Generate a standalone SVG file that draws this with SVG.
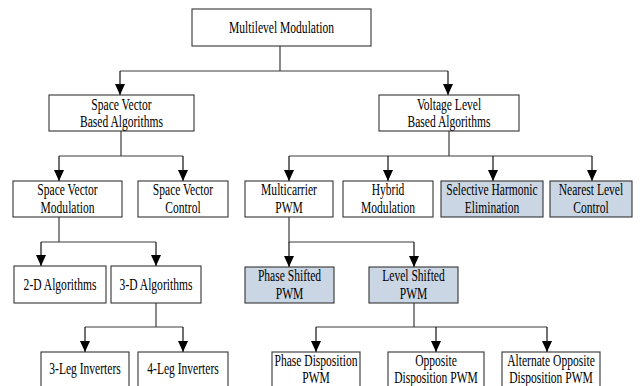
<svg xmlns="http://www.w3.org/2000/svg" width="640" height="386" viewBox="0 0 640 386">
<style>
.box{fill:#fff;stroke:#333;stroke-width:1.1}
.hl{fill:#cad6e4;stroke:#333;stroke-width:1.1}
.t{font-family:"Liberation Serif","Times New Roman",serif;font-size:16.5px;fill:#000;text-anchor:middle}
.c{fill:none;stroke:#3c3c3c;stroke-width:1.2}
.a{fill:none;stroke:#111;stroke-width:1.2;marker-end:url(#ah)}
</style>
<defs>
<marker id="ah" markerUnits="userSpaceOnUse" markerWidth="11" markerHeight="10" viewBox="0 0 11 10" refX="11" refY="5" orient="auto">
<path d="M0,0 L11,5 L0,10 Z" fill="#000"/>
</marker>
</defs>
<rect width="640" height="386" fill="#fff"/>

<g id="connectors">
<path class="c" d="M280,46 V71 M120,71 H448"/>
<path class="a" d="M120,71 V95"/>
<path class="a" d="M448,71 V95"/>
<path class="c" d="M121,131 V156 M59,156 H183"/>
<path class="a" d="M59,156 V181"/>
<path class="a" d="M183,156 V181"/>
<path class="c" d="M449,131 V156 M289,156 H592"/>
<path class="a" d="M289,156 V181"/>
<path class="a" d="M388,156 V181"/>
<path class="a" d="M493,156 V181"/>
<path class="a" d="M592,156 V181"/>
<path class="c" d="M59,217 V242 M41,242 H156"/>
<path class="a" d="M41,242 V266"/>
<path class="a" d="M156,242 V266"/>
<path class="c" d="M289,217 V242 H414"/>
<path class="a" d="M289,242 V267"/>
<path class="a" d="M414,242 V267"/>
<path class="c" d="M156,303 V327 M85,327 H183"/>
<path class="a" d="M85,327 V352"/>
<path class="a" d="M183,327 V352"/>
<path class="c" d="M414,303 V327 M316,327 H547"/>
<path class="a" d="M316,327 V352"/>
<path class="a" d="M436,327 V352"/>
<path class="a" d="M547,327 V352"/>
</g>

<g id="n-multilevel">
<rect class="box" x="192" y="9" width="179" height="37"/>
<text class="t" transform="translate(281.5,33) scale(0.7,1)">Multilevel Modulation</text>
</g>
<g id="n-svb">
<rect class="box" x="49" y="95" width="145" height="36"/>
<text class="t" transform="translate(121.5,109.5) scale(0.7,1)">Space Vector</text>
<text class="t" transform="translate(121.5,127) scale(0.7,1)">Based Algorithms</text>
</g>
<g id="n-vlb">
<rect class="box" x="379" y="95" width="140" height="36"/>
<text class="t" transform="translate(449,109.5) scale(0.7,1)">Voltage Level</text>
<text class="t" transform="translate(449,127) scale(0.7,1)">Based Algorithms</text>
</g>
<g id="n-svm">
<rect class="box" x="13" y="181" width="109" height="36"/>
<text class="t" transform="translate(67.5,195) scale(0.7,1)">Space Vector</text>
<text class="t" transform="translate(67.5,212.5) scale(0.7,1)">Modulation</text>
</g>
<g id="n-svc">
<rect class="box" x="138" y="181" width="90" height="36"/>
<text class="t" transform="translate(183,195) scale(0.7,1)">Space Vector</text>
<text class="t" transform="translate(183,212.5) scale(0.7,1)">Control</text>
</g>
<g id="n-mc">
<rect class="box" x="245" y="181" width="88" height="36"/>
<text class="t" transform="translate(289,195) scale(0.7,1)">Multicarrier</text>
<text class="t" transform="translate(289,212.5) scale(0.7,1)">PWM</text>
</g>
<g id="n-hybrid">
<rect class="box" x="343" y="181" width="90" height="36"/>
<text class="t" transform="translate(388,195) scale(0.7,1)">Hybrid</text>
<text class="t" transform="translate(388,212.5) scale(0.7,1)">Modulation</text>
</g>
<g id="n-she">
<rect class="hl" x="441" y="181" width="102" height="36"/>
<text class="t" transform="translate(492,195) scale(0.7,1)">Selective Harmonic</text>
<text class="t" transform="translate(492,212.5) scale(0.7,1)">Elimination</text>
</g>
<g id="n-nlc">
<rect class="hl" x="550" y="181" width="82" height="36"/>
<text class="t" transform="translate(591,195) scale(0.7,1)">Nearest Level</text>
<text class="t" transform="translate(591,212.5) scale(0.7,1)">Control</text>
</g>
<g id="n-2d">
<rect class="box" x="14" y="266" width="92" height="37"/>
<text class="t" transform="translate(60,290) scale(0.7,1)">2-D Algorithms</text>
</g>
<g id="n-3d">
<rect class="box" x="111" y="266" width="90" height="37"/>
<text class="t" transform="translate(156,290) scale(0.7,1)">3-D Algorithms</text>
</g>
<g id="n-ps">
<rect class="hl" x="245" y="267" width="89" height="36"/>
<text class="t" transform="translate(289.5,281) scale(0.7,1)">Phase Shifted</text>
<text class="t" transform="translate(289.5,298.5) scale(0.7,1)">PWM</text>
</g>
<g id="n-ls">
<rect class="hl" x="369" y="267" width="89" height="36"/>
<text class="t" transform="translate(413.5,281) scale(0.7,1)">Level Shifted</text>
<text class="t" transform="translate(413.5,298.5) scale(0.7,1)">PWM</text>
</g>
<g id="n-3leg">
<rect class="box" x="41" y="352" width="88" height="40"/>
<text class="t" transform="translate(85,374) scale(0.7,1)">3-Leg Inverters</text>
</g>
<g id="n-4leg">
<rect class="box" x="138" y="352" width="90" height="40"/>
<text class="t" transform="translate(183,374) scale(0.7,1)">4-Leg Inverters</text>
</g>
<g id="n-pd">
<rect class="box" x="272" y="352" width="88" height="40"/>
<text class="t" transform="translate(316,365.5) scale(0.7,1)">Phase Disposition</text>
<text class="t" transform="translate(316,382.5) scale(0.7,1)">PWM</text>
</g>
<g id="n-od">
<rect class="box" x="388" y="352" width="96" height="40"/>
<text class="t" transform="translate(436,365.5) scale(0.7,1)">Opposite</text>
<text class="t" transform="translate(436,382.5) scale(0.7,1)">Disposition PWM</text>
</g>
<g id="n-aod">
<rect class="box" x="502" y="352" width="98" height="40"/>
<text class="t" transform="translate(551,365.5) scale(0.7,1)">Alternate Opposite</text>
<text class="t" transform="translate(551,382.5) scale(0.7,1)">Disposition PWM</text>
</g>
</svg>
